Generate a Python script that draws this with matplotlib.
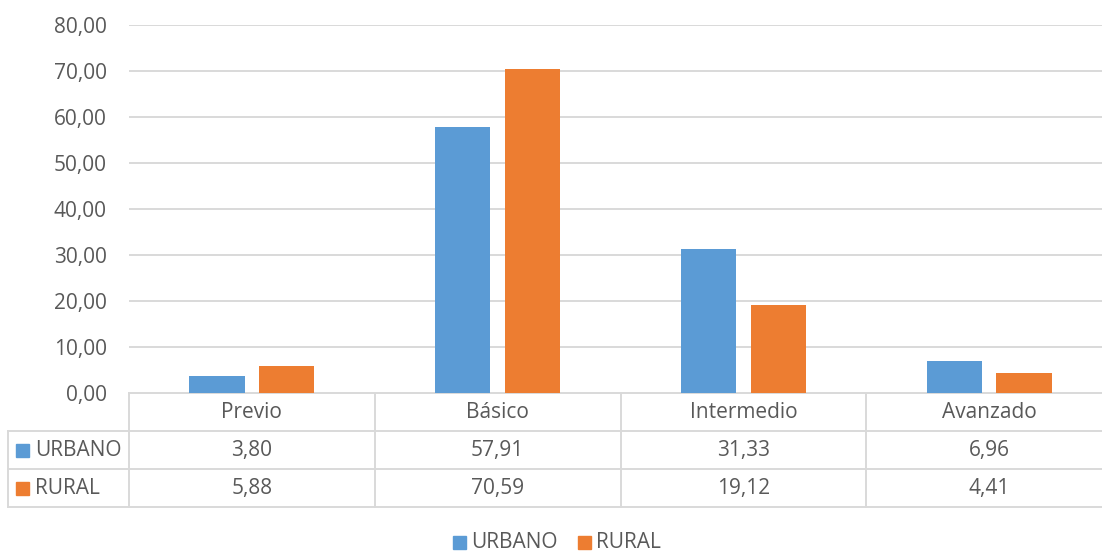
import matplotlib
matplotlib.use("Agg")
import matplotlib.pyplot as plt
import matplotlib.transforms as mtransforms
from matplotlib.patches import Rectangle

plt.rcParams['font.family'] = ['Open Sans', 'DejaVu Sans']

# datos
categorias = ['Previo', 'Básico', 'Intermedio', 'Avanzado']
urbano = [3.80, 57.91, 31.33, 6.96]
rural = [5.88, 70.59, 19.12, 4.41]
series = ['URBANO', 'RURAL']
colores = ['#5B9BD5', '#ED7D31']
y_ticks = [0, 10, 20, 30, 40, 50, 60, 70, 80]

W, H = 1102, 551
gris_txt = '#595959'
gris_lin = '#d9d9d9'
fs = 15

fig = plt.figure(figsize=(W / 100, H / 100), dpi=100)

# ejes principales (en pixeles de la imagen)
x0, x1 = 129, 1112
y_cero, y_top = 393.3, 25.3
ax = fig.add_axes([x0 / W, (H - y_cero) / H, (x1 - x0) / W, (y_cero - y_top) / H])

ancho = 0.224
desp = 0.142
pos = list(range(len(categorias)))
ax.bar([p - desp for p in pos], urbano, ancho, color=colores[0], zorder=3)
ax.bar([p + desp for p in pos], rural, ancho, color=colores[1], zorder=3)

ax.set_xlim(-0.5, len(categorias) - 0.5)
ax.set_ylim(0, 80)
ax.set_yticks(y_ticks)
ax.set_yticklabels([f'{v:.2f}'.replace('.', ',') for v in y_ticks],
                   fontsize=fs, color=gris_txt)
ax.tick_params(axis='y', length=0, pad=16)
ax.set_xticks([])
ax.grid(axis='y', color=gris_lin, lw=1.4, zorder=0)
for s in ax.spines.values():
    s.set_visible(False)

# capa en pixeles para la tabla y la leyenda
ov = fig.add_axes([0, 0, 1, 1], zorder=-1)
ov.set_xlim(0, W)
ov.set_ylim(H, 0)
ov.axis('off')
ov.patch.set_alpha(0)

mix = mtransforms.blended_transform_factory(ax.transData, ov.transData)

r0, r1, r2, r3 = y_cero, 431, 469.3, 507.3
izq = 8

# lineas horizontales
ov.plot([x0, x1], [r0, r0], color=gris_lin, lw=1.4, clip_on=False)
for yy in (r1, r2, r3):
    ov.plot([izq, x1], [yy, yy], color=gris_lin, lw=1.4, clip_on=False)
# lineas verticales
ov.plot([x0, x0], [r0, r3], color=gris_lin, lw=1.4)
ov.plot([izq, izq], [r1, r3], color=gris_lin, lw=1.4)
for i in range(1, len(categorias)):
    ov.plot([i - 0.5, i - 0.5], [r0, r3], color=gris_lin, lw=1.4, transform=mix)

# textos de la tabla
for i, cat in enumerate(categorias):
    ov.text(i, (r0 + r1) / 2, cat, transform=mix, ha='center', va='center',
            fontsize=fs, color=gris_txt)
    for fila, vals in zip(((r1 + r2) / 2, (r2 + r3) / 2), (urbano, rural)):
        ov.text(i, fila, f'{vals[i]:.2f}'.replace('.', ','), transform=mix,
                ha='center', va='center', fontsize=fs, color=gris_txt)

for fila, nom, col in zip(((r1 + r2) / 2, (r2 + r3) / 2), series, colores):
    ov.add_patch(Rectangle((16, fila - 6.5), 13, 13, color=col))
    ov.text(35, fila, nom, ha='left', va='center', fontsize=fs, color=gris_txt)

# leyenda inferior
ley_y = 542
ley_x = [453, 578]
for lx, nom, col in zip(ley_x, series, colores):
    ov.add_patch(Rectangle((lx, ley_y - 6.5), 13, 13, color=col))
    ov.text(lx + 18, ley_y, nom, ha='left', va='center', fontsize=fs, color=gris_txt)

fig.savefig('out.png', dpi=100)
